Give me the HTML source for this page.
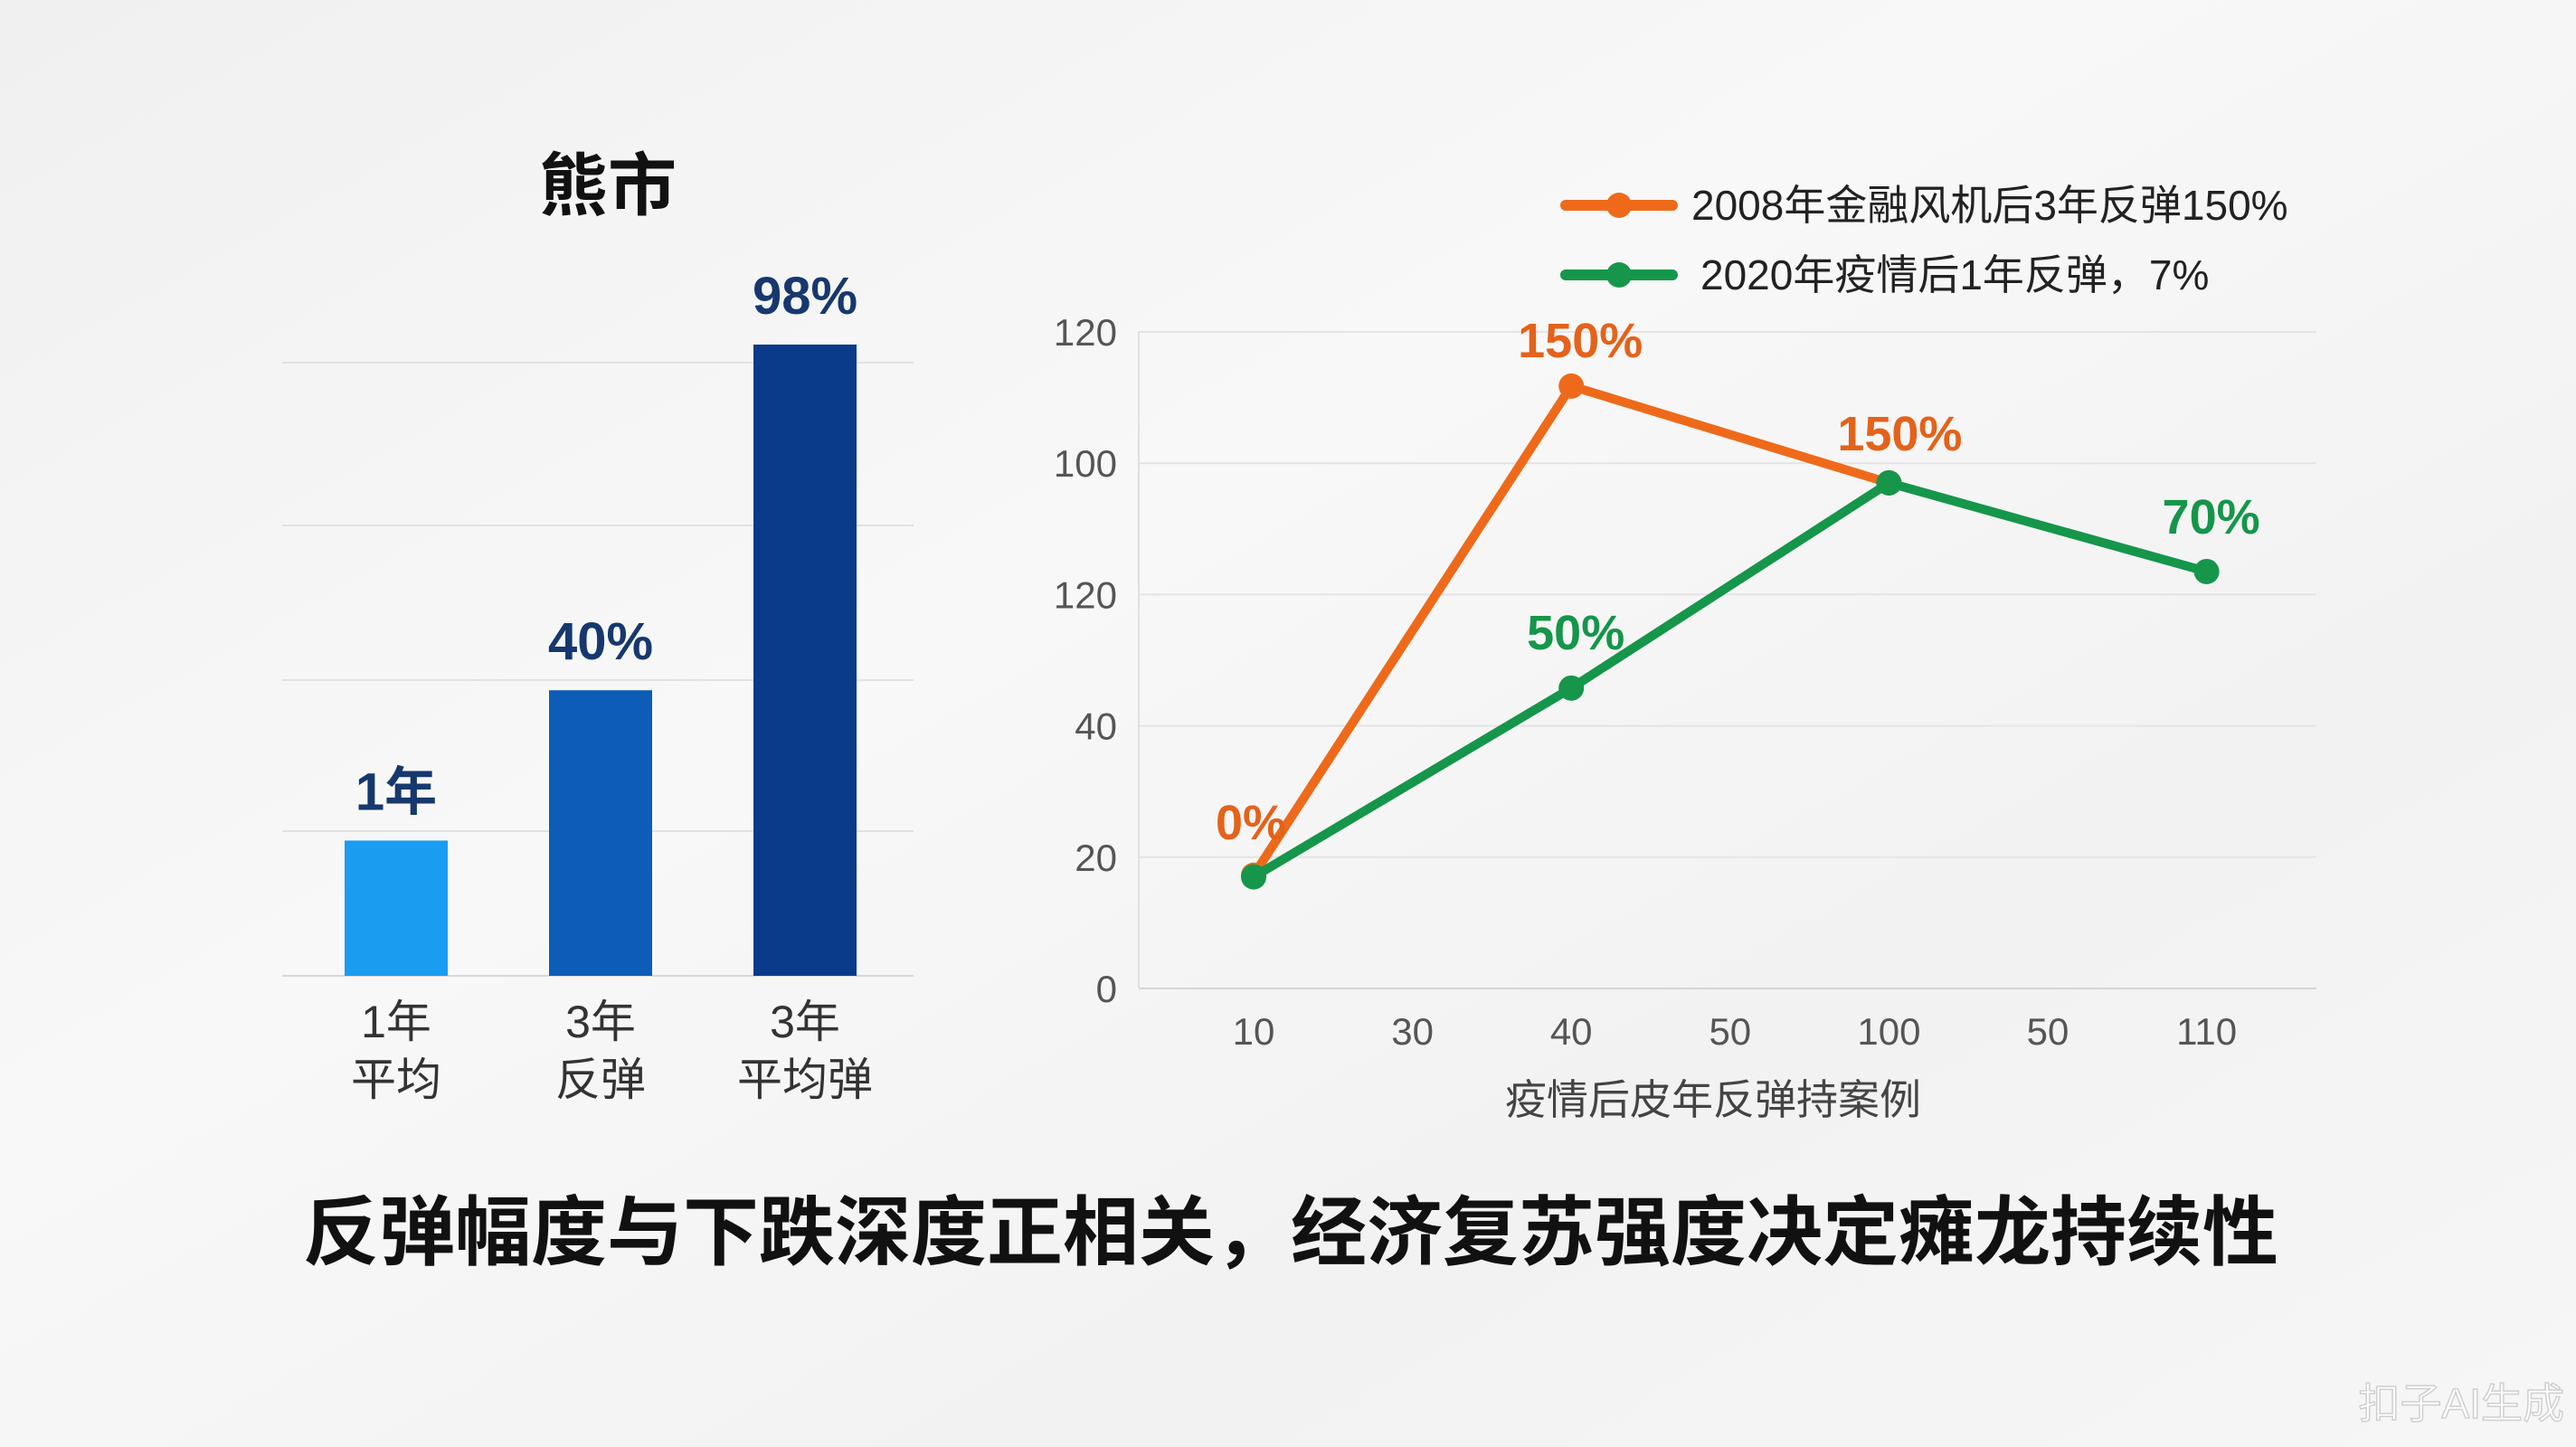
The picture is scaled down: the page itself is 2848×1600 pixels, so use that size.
<!DOCTYPE html>
<html><head><meta charset="utf-8">
<style>
html,body{margin:0;padding:0;width:2848px;height:1600px;overflow:hidden;background:#f3f3f3;}
svg{display:block;font-family:"Liberation Sans","Noto Sans CJK SC",sans-serif;}
</style></head>
<body>
<svg id="chart" width="2848" height="1600" viewBox="0 0 2848 1600">
<defs>
<linearGradient id="paper" x1="0" y1="0" x2="1" y2="1">
<stop offset="0" stop-color="#f0f0f0"/><stop offset="0.4" stop-color="#f8f8f8"/><stop offset="0.7" stop-color="#f2f2f2"/><stop offset="1" stop-color="#f6f6f6"/>
</linearGradient>
</defs>
<rect width="2848" height="1600" fill="url(#paper)"/>
<text x="672" y="232" text-anchor="middle" font-size="76" font-weight="bold" fill="#111">熊市</text>
<g id="bars"></g>
<g id="lines"></g>
<text x="1427" y="1392" text-anchor="middle" font-size="84" font-weight="bold" fill="#111">反弹幅度与下跌深度正相关，经济复苏强度决定瘫龙持续性</text>
<text x="2835" y="1568" text-anchor="end" font-size="46" fill="#ffffff" stroke="#cfcfcf" stroke-width="1.5">扣子AI生成</text>
</svg>
<script>
const barCats = [["1年","平均"],["3年","反弹"],["3年","平均弹"]];
const barValues = [18, 38, 84];
const barLabels = ["1年","40%","98%"];
const barColors = ["#1a9cf0","#0d5cb8","#0a3a8a"];

const lineCats = ["10","30","40","50","100","50","110"];
const orangeVals = [17.25, null, 91.75, null, 77, null, null];
const greenVals = [17, null, 45.75, null, 77, null, 63.5];
const orangeLabels = ["0%",null,"150%",null,"150%",null,null];
const greenLabels = [null,null,"50%",null,null,null,"70%"];
const yTickVals = [0,20,40,60,80,100];
const yTickLabels = ["0","20","40","120","100","120"];

const NS="http://www.w3.org/2000/svg";
function mk(tag, attrs, parent, txt){const e=document.createElementNS(NS,tag);for(const k in attrs)e.setAttribute(k,attrs[k]);if(txt!==undefined)e.textContent=txt;parent.appendChild(e);return e;}

// bar chart
const bg=document.getElementById('bars');
const bBase=1079, bTop=381, bMax=84;
const bY=v=>bBase-(v/bMax)*(bBase-bTop);
const bX=i=>438+i*226;
[401,581,752,919].forEach(y=>{
  const g=mk('line',{x1:312,x2:1010,y1:y,y2:y,stroke:'#e2e2e2','stroke-width':2},bg);
  
  
});
const ax=mk('line',{x1:312,x2:1010,y1:bBase,y2:bBase,stroke:'#d8d8d8','stroke-width':2},bg);


barValues.forEach((v,i)=>{
  const r=mk('rect',{x:bX(i)-57,y:bY(v),width:114,height:bBase-bY(v),fill:barColors[i]},bg);
  
  
  const t=mk('text',{x:bX(i),y:bY(v)-34,'text-anchor':'middle','font-size':58,'font-weight':'bold',fill:'#16386e'},bg,barLabels[i]);
  
  
  barCats[i].forEach((s,j)=>{
    const c=mk('text',{x:bX(i),y:1147+j*64,'text-anchor':'middle','font-size':50,fill:'#333'},bg,s);
    
    
  });
});

// line chart
const lg=document.getElementById('lines');
const x0=1386, dx=175.6, y0=1093, yTop=367;
const lx=i=>x0+i*dx;
const ly=v=>y0-(v/100)*(y0-yTop);
yTickVals.forEach((v,i)=>{
  const g=mk('line',{x1:1259,x2:2561,y1:ly(v),y2:ly(v),stroke:i===0?'#d6d6d6':'#e4e4e4','stroke-width':2},lg);
  
  
  const t=mk('text',{x:1235,y:ly(v)+15,'text-anchor':'end','font-size':42,fill:'#555'},lg,yTickLabels[i]);
  
  
});
const yax=mk('line',{x1:1259,x2:1259,y1:yTop,y2:y0,stroke:'#e0e0e0','stroke-width':2},lg);


lineCats.forEach((c,i)=>{
  const t=mk('text',{x:lx(i),y:1155,'text-anchor':'middle','font-size':42,fill:'#555'},lg,c);
  
  
});
const xt=mk('text',{x:1894,y:1232,'text-anchor':'middle','font-size':46,fill:'#444'},lg,'疫情后皮年反弹持案例');



function series(vals,color,name){
  const pts=[];vals.forEach((v,i)=>{if(v!==null)pts.push([lx(i),ly(v),i]);});
  const p=mk('polyline',{points:pts.map(p=>p[0]+','+p[1]).join(' '),fill:'none',stroke:color,'stroke-width':10,'stroke-linejoin':'round'},lg);
  
  
  pts.forEach(pt=>{
    const c=mk('circle',{cx:pt[0],cy:pt[1],r:14,fill:color},lg);
    
    
  });
  return pts;
}
series(orangeVals,'#ee6a1a','orange-series');
series(greenVals,'#15964a','green-series');
const lblOff={orange:[[-3,-40],[0,0],[10,-32],[0,0],[12,-36]],green:[[0,0],[0,0],[5,-43],[0,0],[0,0],[0,0],[5,-42]]};
orangeLabels.forEach((s,i)=>{if(!s)return;const o=lblOff.orange[i];
  const t=mk('text',{x:lx(i)+o[0],y:ly(orangeVals[i])+o[1],'text-anchor':'middle','font-size':54,'font-weight':'bold',fill:'#e4621a'},lg,s);
  
  
});
greenLabels.forEach((s,i)=>{if(!s)return;const o=lblOff.green[i];
  const t=mk('text',{x:lx(i)+o[0],y:ly(greenVals[i])+o[1],'text-anchor':'middle','font-size':54,'font-weight':'bold',fill:'#15964a'},lg,s);
  
  
});
// legend
[['#ee6a1a',227,'2008年金融风机后3年反弹150%',1870],['#15964a',304,'2020年疫情后1年反弹，7%',1880]].forEach((l,i)=>{
  const ln=mk('line',{x1:1731,x2:1849,y1:l[1],y2:l[1],stroke:l[0],'stroke-width':12,'stroke-linecap':'round'},lg);
  
  
  const c=mk('circle',{cx:1790,cy:l[1],r:14,fill:l[0]},lg);
  
  
  const t=mk('text',{x:l[3],y:l[1]+16,'font-size':46,fill:'#222'},lg,l[2]);
  
  
});
</script>
</body></html>
